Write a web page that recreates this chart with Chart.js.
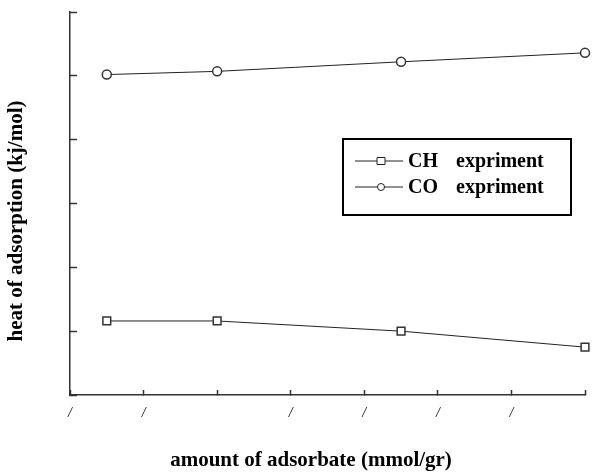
<!DOCTYPE html>
<html>
<head>
<meta charset="utf-8">
<script src="https://cdn.jsdelivr.net/npm/chart.js@4/dist/chart.umd.min.js"></script>
<style>
  body { margin: 0; background: #fff; }
  #wrap { width: 593px; height: 474px; position: relative; }
</style>
</head>
<body>
<div id="wrap"><canvas id="heatChart"></canvas></div>
<script>
// ---- data ----
const amounts = [0.25, 1.0, 2.25, 3.5];          // mmol/gr
const chHeat = [5.8, 5.8, 5.0, 3.75];            // kj/mol
const coHeat = [25.1, 25.35, 26.1, 26.8];        // kj/mol
const xTickLabels = ['/', '/', '', '/', '/', '/', '/', ''];
const seriesNames = ['CH', 'CO'];
const legendSuffix = 'expriment';
const xTitle = 'amount of adsorbate (mmol/gr)';
const yTitle = 'heat of adsorption (kj/mol)';

const serif = "'Liberation Serif', 'DejaVu Serif', serif";
Chart.defaults.font.family = serif;
Chart.defaults.color = '#000';

// legend box drawn inside the plot, like the original
const boxLegend = {
  id: 'boxLegend',
  afterDraw(chart) {
    const c = chart.ctx;
    const a = chart.chartArea;
    const bx = a.left + 273, by = a.top + 127, bw = 228, bh = 76;
    c.save();
    c.strokeStyle = '#000';
    c.lineWidth = 2;
    c.strokeRect(bx, by, bw, bh);
    chart.data.datasets.forEach((ds, i) => {
      const y = by + 22 + i * 26;
      c.strokeStyle = '#222';
      c.lineWidth = 1;
      c.beginPath();
      c.moveTo(bx + 12, y);
      c.lineTo(bx + 60, y);
      c.stroke();
      c.fillStyle = '#fff';
      c.beginPath();
      if (ds.pointStyle === 'rect') {
        c.rect(bx + 34, y - 3.5, 8, 7);
      } else {
        c.arc(bx + 38, y, 3.5, 0, Math.PI * 2);
      }
      c.fill();
      c.stroke();
      c.fillStyle = '#000';
      c.font = 'bold 20px ' + serif;
      c.textBaseline = 'middle';
      c.fillText(seriesNames[i], bx + 65, y + 1);
      c.fillText(legendSuffix, bx + 113, y + 1);
    });
    c.restore();
  }
};

// axis titles, placed where the original has them (a bit off the plot centre)
const axisTitles = {
  id: 'axisTitles',
  afterDraw(chart) {
    const c = chart.ctx;
    const a = chart.chartArea;
    c.save();
    c.fillStyle = '#000';
    c.font = 'bold 21px ' + serif;
    c.textAlign = 'center';
    c.textBaseline = 'middle';
    c.fillText(xTitle, 311, a.bottom + 66);
    c.translate(17, a.top + 209);
    c.rotate(-Math.PI / 2);
    c.fillText(yTitle, 0, 0);
    c.restore();
  }
};

new Chart(document.getElementById('heatChart'), {
  type: 'line',
  data: {
    datasets: [
      {
        label: 'CH expriment',
        data: amounts.map((x, i) => ({ x: x, y: chHeat[i] })),
        borderColor: '#222',
        borderWidth: 1,
        pointStyle: 'rect',
        pointRadius: 5.5,
        pointBorderWidth: 1.5,
        pointBorderColor: '#333',
        pointBackgroundColor: '#fff',
        clip: false,
        tension: 0
      },
      {
        label: 'CO expriment',
        data: amounts.map((x, i) => ({ x: x, y: coHeat[i] })),
        borderColor: '#222',
        borderWidth: 1,
        pointStyle: 'circle',
        pointRadius: 4.5,
        pointBorderWidth: 1.5,
        pointBorderColor: '#333',
        pointBackgroundColor: '#fff',
        clip: false,
        tension: 0
      }
    ]
  },
  options: {
    responsive: true,
    maintainAspectRatio: false,
    animation: false,
    layout: { autoPadding: false, padding: { top: 12, right: 8, left: 0, bottom: 0 } },
    plugins: {
      legend: { display: false },
      tooltip: { enabled: false }
    },
    scales: {
      x: {
        type: 'linear',
        min: 0,
        max: 3.5,
        afterFit(scale) {
          scale.height = 79;
          scale.paddingLeft = 0;
          scale.paddingRight = 0;
        },
        ticks: {
          stepSize: 0.5,
          padding: 15,
          maxRotation: 0,
          font: { size: 14, style: 'italic' },
          callback: (v, i) => xTickLabels[i]
        },
        grid: { drawOnChartArea: false, tickLength: -5, color: '#333', tickWidth: 1.5 },
        border: { color: '#333', width: 1.5 }
      },
      y: {
        min: 0,
        max: 30,
        afterFit(scale) { scale.width = 70; },
        ticks: { stepSize: 5, display: false },
        grid: { drawOnChartArea: false, tickLength: -7, color: '#333', tickWidth: 1.5 },
        border: { color: '#333', width: 1.5 }
      }
    }
  },
  plugins: [boxLegend, axisTitles]
});
</script>
</body>
</html>
